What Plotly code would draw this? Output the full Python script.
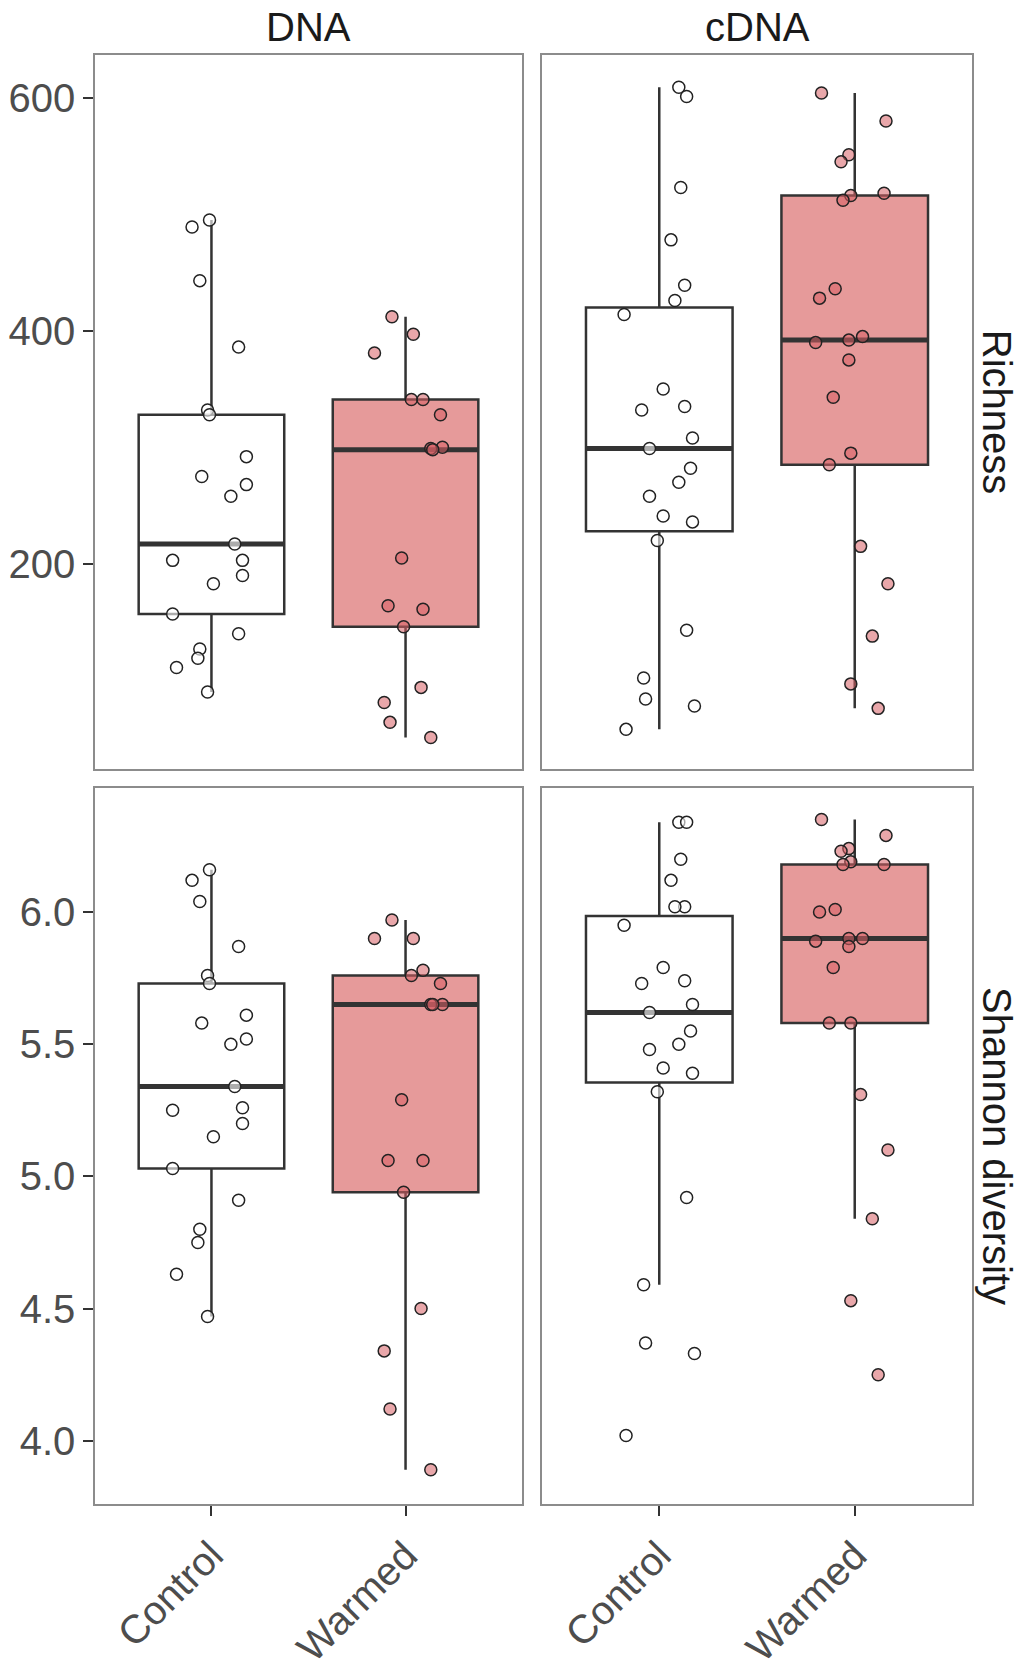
import numpy as np
import plotly.graph_objects as go
from plotly.subplots import make_subplots

groups = ["Control", "Warmed"]
libraries = ["DNA", "cDNA"]
metrics = ["Richness", "Shannon diversity"]

# values, one list per panel / treatment
# jitter = horizontal offset of each point from its category centre (category units)
rich_dna_control = [489, 495, 443, 386, 332, 328, 292, 275, 268, 258, 217,
                    203, 203, 190, 183, 157, 140, 127, 119, 111, 90]
rich_dna_control_jit = [-0.10, -0.01, -0.06, 0.14, -0.02, -0.01, 0.18, -0.05, 0.18, 0.10, 0.12,
                        -0.20, 0.16, 0.16, 0.01, -0.20, 0.14, -0.06, -0.07, -0.18, -0.02]
rich_dna_warmed = [412, 397, 381, 341, 341, 328, 299, 300, 298, 205, 164,
                   161, 146, 94, 81, 64, 51]
rich_dna_warmed_jit = [-0.07, 0.04, -0.16, 0.03, 0.09, 0.18, 0.13, 0.19, 0.14, -0.02, -0.09,
                       0.09, -0.01, 0.08, -0.11, -0.08, 0.13]

rich_cdna_control = [609, 601, 523, 478, 439, 426, 414, 350, 335, 332, 308, 299,
                     282, 270, 258, 241, 236, 220, 143, 102, 84, 78, 58]
rich_cdna_control_jit = [0.10, 0.14, 0.11, 0.06, 0.13, 0.08, -0.18, 0.02, 0.13, -0.09, 0.17, -0.05,
                         0.16, 0.10, -0.05, 0.02, 0.17, -0.01, 0.14, -0.08, -0.07, 0.18, -0.17]
rich_cdna_warmed = [604, 580, 551, 545, 518, 516, 512, 436, 428, 395, 392,
                    390, 375, 343, 295, 285, 215, 183, 138, 97, 76]
rich_cdna_warmed_jit = [-0.17, 0.16, -0.03, -0.07, 0.15, -0.02, -0.06, -0.10, -0.18, 0.04, -0.03,
                        -0.20, -0.03, -0.11, -0.02, -0.13, 0.03, 0.17, 0.09, -0.02, 0.12]

shan_dna_control = [6.16, 6.12, 6.04, 5.87, 5.76, 5.73, 5.61, 5.58, 5.52, 5.50, 5.34,
                    5.25, 5.26, 5.20, 5.15, 5.03, 4.91, 4.80, 4.75, 4.63, 4.47]
shan_dna_control_jit = [-0.01, -0.10, -0.06, 0.14, -0.02, -0.01, 0.18, -0.05, 0.18, 0.10, 0.12,
                        -0.20, 0.16, 0.16, 0.01, -0.20, 0.14, -0.06, -0.07, -0.18, -0.02]
shan_dna_warmed = [5.97, 5.90, 5.90, 5.76, 5.78, 5.73, 5.65, 5.65, 5.65, 5.29, 5.06,
                   5.06, 4.94, 4.50, 4.34, 4.12, 3.89]
shan_dna_warmed_jit = [-0.07, -0.16, 0.04, 0.03, 0.09, 0.18, 0.13, 0.19, 0.14, -0.02, -0.09,
                       0.09, -0.01, 0.08, -0.11, -0.08, 0.13]

shan_cdna_control = [6.34, 6.34, 6.20, 6.12, 6.02, 6.02, 5.95, 5.79, 5.74, 5.73, 5.65, 5.62,
                     5.55, 5.50, 5.48, 5.41, 5.39, 5.32, 4.92, 4.59, 4.37, 4.33, 4.02]
shan_cdna_control_jit = [0.10, 0.14, 0.11, 0.06, 0.13, 0.08, -0.18, 0.02, 0.13, -0.09, 0.17, -0.05,
                         0.16, 0.10, -0.05, 0.02, 0.17, -0.01, 0.14, -0.08, -0.07, 0.18, -0.17]
shan_cdna_warmed = [6.35, 6.29, 6.24, 6.23, 6.18, 6.19, 6.18, 6.01, 6.00, 5.90, 5.90,
                    5.89, 5.87, 5.79, 5.58, 5.58, 5.31, 5.10, 4.84, 4.53, 4.25]
shan_cdna_warmed_jit = [-0.17, 0.16, -0.03, -0.07, 0.15, -0.02, -0.06, -0.10, -0.18, 0.04, -0.03,
                        -0.20, -0.03, -0.11, -0.02, -0.13, 0.03, 0.17, 0.09, -0.02, 0.12]

rich_ticks = [200, 400, 600]
shan_ticks = [4.0, 4.5, 5.0, 5.5, 6.0]

panels = {
    (1, 1): [(rich_dna_control, rich_dna_control_jit), (rich_dna_warmed, rich_dna_warmed_jit)],
    (1, 2): [(rich_cdna_control, rich_cdna_control_jit), (rich_cdna_warmed, rich_cdna_warmed_jit)],
    (2, 1): [(shan_dna_control, shan_dna_control_jit), (shan_dna_warmed, shan_dna_warmed_jit)],
    (2, 2): [(shan_cdna_control, shan_cdna_control_jit), (shan_cdna_warmed, shan_cdna_warmed_jit)],
}

box_fill = {"Control": "white", "Warmed": "#E69A9A"}
point_fill = {"Control": "rgba(255,255,255,0.6)", "Warmed": "rgba(215,95,100,0.55)"}
ink = "#333333"
font_family = "Liberation Sans, Arial, sans-serif"
box_width = 0.75

# body margin is removed in the page (see post_script), so page px == figure px
W, H = 1029, 1670


def px_x(p):
    return p / W


def px_y(p):
    return 1 - p / H


def box_stats(values):
    v = np.sort(np.asarray(values, dtype=float))
    q1, med, q3 = np.percentile(v, [25, 50, 75])
    iqr = q3 - q1
    lo = v[v >= q1 - 1.5 * iqr].min()
    hi = v[v <= q3 + 1.5 * iqr].max()
    return q1, med, q3, lo, hi


fig = make_subplots(rows=2, cols=2)

for (row, col), series in panels.items():
    for gi, (values, jitter) in enumerate(series):
        group = groups[gi]
        centre = gi + 1
        q1, med, q3, lo, hi = box_stats(values)
        fig.add_trace(
            go.Box(
                x=[centre],
                q1=[q1], median=[med], q3=[q3],
                lowerfence=[lo], upperfence=[hi],
                width=box_width,
                fillcolor=box_fill[group],
                line=dict(color=ink, width=2.5),
                whiskerwidth=0,
                showlegend=False,
                hoverinfo="skip",
            ),
            row=row, col=col,
        )
        fig.add_trace(
            go.Scatter(
                x=[centre - box_width / 2, centre + box_width / 2],
                y=[med, med],
                mode="lines",
                line=dict(color=ink, width=5),
                showlegend=False,
                hoverinfo="skip",
            ),
            row=row, col=col,
        )
        fig.add_trace(
            go.Scatter(
                x=centre + np.array(jitter),
                y=values,
                mode="markers",
                marker=dict(size=12, color=point_fill[group], line=dict(color="#222222", width=1.5)),
                name=group,
                showlegend=False,
            ),
            row=row, col=col,
        )

x_dom = {1: [px_x(95), px_x(522)], 2: [px_x(542), px_x(972)]}
y_dom = {1: [px_y(775), px_y(55)], 2: [px_y(1516), px_y(794)]}
y_rng = {1: [24, 637], 2: [3.76, 6.47]}

axis_common = dict(
    showline=True, mirror=True, linecolor="#8C8C8C", linewidth=1.5,
    showgrid=False, zeroline=False,
    tickcolor=ink, ticklen=10, tickwidth=2,
    tickfont=dict(family=font_family, size=40, color="#4D4D4D"),
)

for row in (1, 2):
    for col in (1, 2):
        fig.update_xaxes(
            domain=x_dom[col], range=[0.4, 2.6],
            tickmode="array", tickvals=[1, 2], ticktext=groups,
            ticks="outside" if row == 2 else "", showticklabels=row == 2,
            tickangle=-45,
            row=row, col=col, **axis_common,
        )
        fig.update_yaxes(
            domain=y_dom[row], range=y_rng[row],
            tickmode="array",
            tickvals=rich_ticks if row == 1 else shan_ticks,
            ticktext=[str(v) for v in rich_ticks] if row == 1 else [f"{v:.1f}" for v in shan_ticks],
            ticks="outside" if col == 1 else "", showticklabels=col == 1,
            row=row, col=col, **axis_common,
        )

strip_font = dict(family=font_family, size=40, color="#1A1A1A")
annotations = []
for col, lib in zip((1, 2), libraries):
    annotations.append(dict(
        x=sum(x_dom[col]) / 2, y=px_y(27), xref="paper", yref="paper",
        text=lib, showarrow=False, font=strip_font, xanchor="center", yanchor="middle",
    ))
for row, metric in zip((1, 2), metrics):
    annotations.append(dict(
        x=px_x(997), y=sum(y_dom[row]) / 2, xref="paper", yref="paper",
        text=metric, showarrow=False, font=strip_font, textangle=90,
        xanchor="center", yanchor="middle",
    ))

fig.update_layout(
    width=W,
    height=H,
    margin=dict(l=0, r=0, t=0, b=0),
    plot_bgcolor="white",
    paper_bgcolor="white",
    font=dict(family=font_family),
    annotations=annotations,
    showlegend=False,
)

fig.write_html(
    "out.html",
    config={"displayModeBar": False},
    post_script="document.body.style.margin = '0';",
)
